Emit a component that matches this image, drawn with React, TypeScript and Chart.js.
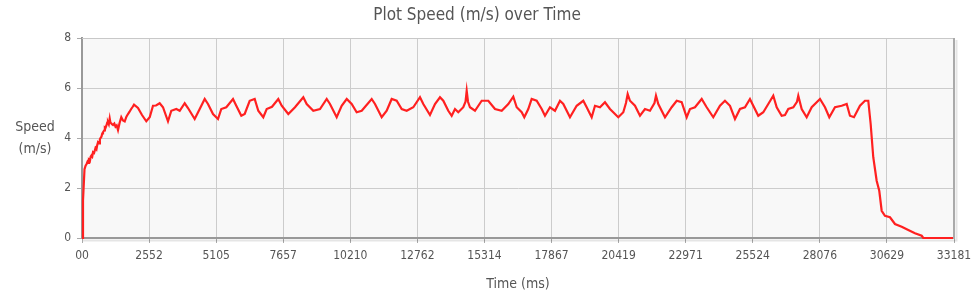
import React, { useEffect, useRef } from "react";
import { Chart, registerables } from "chart.js";

Chart.register(...registerables);

const chartTitle = "Plot Speed (m/s) over Time";
const xAxisTitle = "Time (ms)";
const yAxisTitleLines = ["Speed", "(m/s)"];

const xTickValues = [0, 2552, 5105, 7657, 10210, 12762, 15314, 17867, 20419, 22971, 25524, 28076, 30629, 33181];
const xTickLabels = ["00", "2552", "5105", "7657", "10210", "12762", "15314", "17867", "20419", "22971", "25524", "28076", "30629", "33181"];
const yTickValues = [0, 2, 4, 6, 8];

const timeMs = [
  0, 38, 95, 140, 171, 210, 240, 266, 300, 330, 361, 390, 419, 460, 514, 550, 580, 609, 650, 680,
  704, 740, 770, 799, 840, 870, 894, 930, 960, 989, 1020, 1054, 1080, 1103, 1140, 1180, 1230, 1275, 1320, 1370,
  1430, 1495, 1560, 1625, 1690, 1750, 1810, 1865, 1930, 1979, 2131, 2283, 2447, 2576, 2702, 2816, 2956, 3082, 3272, 3398,
  3588, 3718, 3908, 4033, 4288, 4479, 4669, 4794, 4985, 5175, 5300, 5491, 5746, 5871, 6062, 6191, 6381, 6571, 6708, 6898,
  7028, 7230, 7469, 7599, 7850, 8105, 8421, 8550, 8801, 9056, 9311, 9436, 9691, 9881, 10072, 10262, 10452, 10643, 11023, 11149,
  11404, 11594, 11784, 11974, 12165, 12355, 12606, 12861, 12987, 13241, 13432, 13622, 13748, 13938, 14067, 14193, 14318, 14509, 14593, 14638,
  14688, 14763, 14954, 15209, 15460, 15715, 15970, 16221, 16411, 16541, 16731, 16830, 16982, 17111, 17301, 17492, 17617, 17807, 17998, 18188,
  18314, 18568, 18823, 19075, 19204, 19394, 19520, 19710, 19900, 20090, 20406, 20597, 20699, 20764, 20851, 21042, 21232, 21422, 21612, 21784,
  21841, 21929, 22184, 22438, 22629, 22819, 23009, 23134, 23325, 23580, 23770, 24021, 24276, 24466, 24657, 24847, 25037, 25227, 25417, 25543,
  25733, 25924, 26114, 26304, 26434, 26624, 26750, 26875, 27066, 27206, 27256, 27385, 27575, 27766, 28082, 28272, 28436, 28652, 28907, 29098,
  29222, 29375, 29603, 29793, 29919, 30010, 30109, 30238, 30337, 30429, 30554, 30745, 30935, 31190, 31441, 31696, 31951, 32013, 33181
];

const speed = [
  0, 1.5, 2.75, 2.9, 2.95, 3.05, 3.0, 3.12, 3.08, 3.25, 3.3, 3.26, 3.43, 3.4, 3.6, 3.55, 3.72, 3.83, 3.78, 3.95,
  4.0, 4.05, 4.18, 4.23, 4.3, 4.42, 4.4, 4.5, 4.62, 4.63, 4.55, 4.78, 4.62, 4.6, 4.55, 4.52, 4.58, 4.45, 4.5, 4.32,
  4.6, 4.83, 4.7, 4.66, 4.85, 4.96, 5.05, 5.15, 5.25, 5.33, 5.2, 4.92, 4.67, 4.83, 5.29, 5.3, 5.39, 5.23, 4.67, 5.09,
  5.16, 5.09, 5.39, 5.2, 4.76, 5.16, 5.56, 5.36, 4.96, 4.76, 5.16, 5.23, 5.56, 5.29, 4.89, 4.96, 5.49, 5.56, 5.09, 4.83,
  5.16, 5.25, 5.56, 5.29, 4.96, 5.23, 5.63, 5.36, 5.09, 5.16, 5.56, 5.36, 4.83, 5.29, 5.56, 5.36, 5.03, 5.09, 5.56, 5.36,
  4.83, 5.09, 5.56, 5.49, 5.16, 5.09, 5.23, 5.63, 5.36, 4.92, 5.36, 5.63, 5.49, 5.09, 4.89, 5.16, 5.03, 5.23, 5.45, 5.89,
  5.45, 5.23, 5.09, 5.49, 5.49, 5.16, 5.09, 5.36, 5.65, 5.23, 5.03, 4.83, 5.16, 5.56, 5.49, 5.16, 4.89, 5.23, 5.09, 5.49,
  5.36, 4.83, 5.29, 5.49, 5.23, 4.83, 5.29, 5.23, 5.43, 5.16, 4.83, 5.03, 5.4, 5.76, 5.49, 5.29, 4.89, 5.16, 5.09, 5.4,
  5.69, 5.36, 4.83, 5.23, 5.49, 5.43, 4.83, 5.16, 5.23, 5.56, 5.23, 4.83, 5.29, 5.49, 5.29, 4.76, 5.16, 5.23, 5.56, 5.29,
  4.89, 5.03, 5.36, 5.69, 5.23, 4.89, 4.92, 5.16, 5.23, 5.45, 5.69, 5.16, 4.83, 5.23, 5.56, 5.23, 4.83, 5.23, 5.29, 5.36,
  4.89, 4.83, 5.29, 5.49, 5.49, 4.56, 3.23, 2.29, 1.89, 1.09, 0.89, 0.83, 0.56, 0.45, 0.32, 0.19, 0.09, 0, 0
];

const FONT = "Tahoma, 'DejaVu Sans Condensed', 'DejaVu Sans', sans-serif";
const TEXT = "#555555";

const framePlugin = {
  id: "frame",
  beforeDraw(chart: any) {
    const { ctx, chartArea } = chart;
    const { left, top, right, bottom } = chartArea;
    ctx.save();
    ctx.fillStyle = "#f8f8f8";
    ctx.fillRect(left, top, right - left, bottom - top);
    ctx.restore();
  },
  afterDraw(chart: any) {
    const { ctx, chartArea } = chart;
    const { left, top, right, bottom } = chartArea;
    ctx.save();
    ctx.strokeStyle = "rgba(0,0,0,0.10)";
    ctx.lineWidth = 2;
    ctx.beginPath();
    ctx.moveTo(left + 1, bottom + 2.5);
    ctx.lineTo(right + 2.5, bottom + 2.5);
    ctx.lineTo(right + 2.5, top + 2);
    ctx.stroke();
    ctx.strokeStyle = "#c8c8c8";
    ctx.lineWidth = 1;
    ctx.beginPath();
    ctx.moveTo(left, top + 0.5);
    ctx.lineTo(right, top + 0.5);
    ctx.stroke();
    ctx.strokeStyle = "#aaaaaa";
    ctx.lineWidth = 2;
    ctx.beginPath();
    ctx.moveTo(right, top);
    ctx.lineTo(right, bottom + 1);
    ctx.stroke();
    ctx.fillStyle = TEXT;
    ctx.font = "14px " + FONT;
    ctx.textAlign = "center";
    ctx.textBaseline = "middle";
    ctx.fillText(yAxisTitleLines[0], 35, 127);
    ctx.fillText(yAxisTitleLines[1], 35, 149);
    ctx.restore();
  },
};

export default function App() {
  const ref = useRef<HTMLCanvasElement | null>(null);

  useEffect(() => {
    if (!ref.current) return;
    const points = timeMs.map((t, i) => ({ x: t, y: speed[i] }));
    const chart = new Chart(ref.current, {
      type: "line",
      data: {
        datasets: [
          {
            data: points,
            borderColor: "#ff2020",
            borderWidth: 2.2,
            pointRadius: 0,
            tension: 0,
            fill: false,
            clip: false,
          },
        ],
      },
      options: {
        responsive: false,
        animation: false,
        layout: { padding: { left: 0, right: 26, top: 0, bottom: 0 } },
        plugins: {
          legend: { display: false },
          tooltip: { enabled: false },
          title: {
            display: true,
            text: chartTitle,
            color: TEXT,
            font: { family: FONT, size: 17, weight: "normal" },
            padding: { top: 5, bottom: 12.6 },
          },
        },
        scales: {
          x: {
            type: "linear",
            min: 0,
            max: 33181,
            afterBuildTicks: (scale: any) => {
              scale.ticks = xTickValues.map((v) => ({ value: v }));
            },
            afterFit: (scale: any) => {
              scale.height = 60;
            },
            ticks: {
              autoSkip: false,
              maxRotation: 0,
              padding: 6,
              color: TEXT,
              font: { family: FONT, size: 12 },
              callback: (_v: any, i: number) => xTickLabels[i],
            },
            grid: { color: "#cccccc", lineWidth: 1, tickLength: 5, tickColor: "#aaaaaa" },
            border: { display: true, color: "#999999", width: 2 },
            title: {
              display: true,
              text: xAxisTitle,
              color: TEXT,
              font: { family: FONT, size: 14 },
              padding: { top: 4, bottom: 5 },
            },
          },
          y: {
            min: 0,
            max: 8,
            afterBuildTicks: (scale: any) => {
              scale.ticks = yTickValues.map((v) => ({ value: v }));
            },
            afterFit: (scale: any) => {
              scale.width = 82;
            },
            ticks: {
              padding: 6,
              color: TEXT,
              font: { family: FONT, size: 12 },
            },
            grid: { color: "#cccccc", lineWidth: 1, tickLength: 5, tickColor: "#aaaaaa" },
            border: { display: true, color: "#999999", width: 2 },
          },
        },
      },
      plugins: [framePlugin],
    });
    return () => chart.destroy();
  }, []);

  return (
    <div style={{ position: "fixed", left: 0, top: 0, width: 980, height: 298 }}>
      <canvas ref={ref} width={980} height={298} />
    </div>
  );
}
